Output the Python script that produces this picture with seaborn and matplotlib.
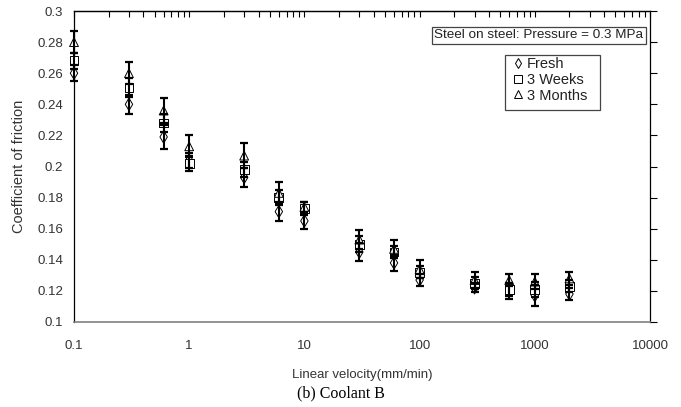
import matplotlib
matplotlib.use("Agg")
import matplotlib.pyplot as plt
import seaborn as sns
import numpy as np
import pandas as pd
from matplotlib.lines import Line2D
from matplotlib.patches import Rectangle
from matplotlib.ticker import FixedLocator, LogLocator, NullFormatter

velocity = [0.1, 0.3, 0.6, 1, 3, 6, 10, 30, 60, 100, 300, 600, 1000, 2000]
fresh = [0.260, 0.240, 0.219, 0.204, 0.193, 0.171, 0.165, 0.145, 0.138, 0.127, 0.122, 0.120, 0.117, 0.118]
weeks3 = [0.268, 0.251, 0.228, 0.202, 0.198, 0.180, 0.173, 0.150, 0.145, 0.132, 0.125, 0.121, 0.121, 0.123]
months3 = [0.280, 0.260, 0.236, 0.213, 0.207, 0.183, 0.174, 0.153, 0.147, 0.134, 0.127, 0.127, 0.126, 0.128]
fresh_err = [0.005, 0.006, 0.008, 0.005, 0.006, 0.006, 0.005, 0.006, 0.005, 0.004, 0.003, 0.005, 0.0065, 0.004]
weeks3_err = [0.005, 0.006, 0.006, 0.005, 0.005, 0.005, 0.004, 0.005, 0.004, 0.004, 0.004, 0.004, 0.005, 0.004]
months3_err = [0.007, 0.007, 0.008, 0.007, 0.008, 0.007, 0.003, 0.006, 0.0055, 0.006, 0.005, 0.004, 0.005, 0.004]
series_names = ["Fresh", "3 Weeks", "3 Months"]
x_ticks = [0.1, 1, 10, 100, 1000, 10000]
x_tick_labels = ["0.1", "1", "10", "100", "1000", "10000"]
y_ticks = [0.1, 0.12, 0.14, 0.16, 0.18, 0.2, 0.22, 0.24, 0.26, 0.28, 0.3]
y_tick_labels = ["0.1", "0.12", "0.14", "0.16", "0.18", "0.2", "0.22", "0.24", "0.26", "0.28", "0.3"]

sns.set_style("white")
plt.rcParams['font.family'] = ['Liberation Sans', 'DejaVu Sans']

rows = []
for name, vals, errs in zip(series_names, [fresh, weeks3, months3], [fresh_err, weeks3_err, months3_err]):
    for v, c, e in zip(velocity, vals, errs):
        rows.append({"velocity": v, "cof": c, "err": e, "series": name})
df = pd.DataFrame(rows)

W, H = 681, 407
fig = plt.figure(figsize=(W/100, H/100), dpi=100)
L, R, T, B = 74, 650, 11, 322
ax = fig.add_axes([L/W, 1 - B/H, (R-L)/W, (B-T)/H])

def ax_frac(px, py):
    return ((px - L) / (R - L), (B - py) / (B - T))

markers = {"Fresh": "d", "3 Weeks": "s", "3 Months": "^"}
sns.scatterplot(data=df, x="velocity", y="cof", style="series", markers=markers,
                style_order=series_names, s=40, facecolor="white", edgecolor="black",
                linewidth=0.7, legend=False, ax=ax, zorder=3, clip_on=False)

for name in series_names:
    sub = df[df.series == name]
    eb = ax.errorbar(sub.velocity, sub.cof, yerr=sub.err, fmt="none", ecolor="black",
                     elinewidth=1.5, capsize=3, capthick=1.6, zorder=4)
    for art in list(eb.lines[1]) + list(eb.lines[2]):
        art.set_clip_on(False)

ax.set_xscale("log")
ax.set_xlim(0.1, 10000)
ax.set_ylim(0.1, 0.3)
ax.xaxis.set_major_locator(FixedLocator(x_ticks))
ax.set_xticklabels(x_tick_labels)
ax.xaxis.set_minor_locator(LogLocator(base=10, subs=np.arange(2, 10)))
ax.xaxis.set_minor_formatter(NullFormatter())
ax.set_yticks(y_ticks)
ax.set_yticklabels(y_tick_labels)

for sp in ax.spines.values():
    sp.set_color("black")
    sp.set_linewidth(0.9)
ax.spines["bottom"].set_color("#808080")
ax.spines["bottom"].set_linewidth(1.2)

ax.tick_params(axis="both", which="both", direction="out", color="black", width=0.8,
               labelsize=9.5, labelcolor="#333333", pad=3)
ax.tick_params(axis="both", which="major", length=5)
ax.tick_params(axis="x", which="minor", length=4)
ax.tick_params(axis="y", which="both", right=True)
ax.tick_params(axis="x", which="both", pad=8)

top = ax.secondary_xaxis("top")
top.xaxis.set_major_locator(FixedLocator(x_ticks))
top.xaxis.set_minor_locator(LogLocator(base=10, subs=np.arange(2, 10)))
top.xaxis.set_major_formatter(NullFormatter())
top.xaxis.set_minor_formatter(NullFormatter())
top.tick_params(axis="x", which="both", direction="in", length=4, width=0.8, color="black")
top.spines["top"].set_linewidth(0.9)

ax.set_xlabel("Linear velocity(mm/min)", fontsize=9.5, color="#333333", labelpad=12)
ax.set_ylabel("Coefficient of friction", fontsize=10.5, color="#333333", labelpad=8)

# title box
x0, y0 = ax_frac(432, 44)
x1, y1 = ax_frac(646, 27)
ax.add_patch(Rectangle((x0, y0), x1 - x0, y1 - y0, transform=ax.transAxes, facecolor="white",
                       edgecolor="#444444", linewidth=0.9, zorder=5, clip_on=False))
ax.text((x0 + x1) / 2, (y0 + y1) / 2, "Steel on steel: Pressure = 0.3 MPa", transform=ax.transAxes,
        ha="center", va="center", fontsize=9.7, color="#222222", zorder=6)

# legend box
lx0, ly0 = ax_frac(505, 110)
lx1, ly1 = ax_frac(600, 55)
ax.add_patch(Rectangle((lx0, ly0), lx1 - lx0, ly1 - ly0, transform=ax.transAxes, facecolor="white",
                       edgecolor="#444444", linewidth=0.9, zorder=5, clip_on=False))
handles = [Line2D([], [], linestyle="none", marker=markers[n], markerfacecolor="white",
                  markeredgecolor="black", markersize=5.5, markeredgewidth=0.7) for n in series_names]
ax_anchor = ax_frac(514, 57)
leg = ax.legend(handles, series_names, loc="upper left", bbox_to_anchor=ax_anchor,
                frameon=False, fontsize=10.5, handlelength=0.6, handletextpad=0.3,
                borderpad=0.0, labelspacing=0.12, borderaxespad=0)
leg.set_zorder(7)
for t in leg.get_texts():
    t.set_color("#222222")

fig.text(0.5, 1 - 393/H, "(b) Coolant B", ha="center", va="center", fontsize=11.5,
         family=["Liberation Serif", "DejaVu Serif"], color="black")

fig.savefig("out.png", dpi=100)
